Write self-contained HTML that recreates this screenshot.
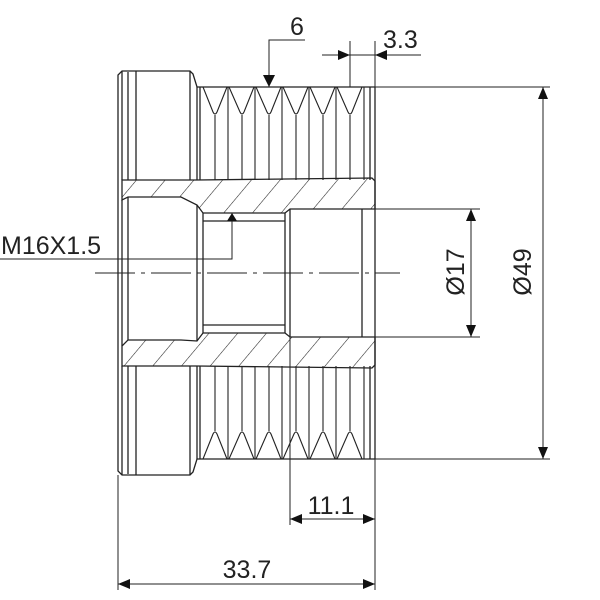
<!DOCTYPE html>
<html><head><meta charset="utf-8"><style>body{margin:0;background:#fff}svg{display:block}</style></head>
<body>
<svg width="600" height="600" viewBox="0 0 600 600" xmlns="http://www.w3.org/2000/svg" font-family="Liberation Sans, sans-serif">
<defs>
<pattern id="h" patternUnits="userSpaceOnUse" width="22" height="22" patternTransform="rotate(40)">
<line x1="0" y1="0" x2="0" y2="22" stroke="#222" stroke-width="1.1"/>
</pattern>
</defs>
<g fill="none" stroke="#222" stroke-width="1.3">
<path d="M122 180 L197 180 L372 178 L375 181 L375 209 L290 209 L285 213 L203 213 L197 205 L181 197 L128 197 L122 200 Z" fill="url(#h)"/>
<path d="M122 366 L197 366 L372 368 L375 365 L375 337 L290 337 L285 333 L203 333 L197 341 L181 340 L128 340 L122 346 Z" fill="url(#h)"/>
<path d="M118 180 L118 75 L122 71 L190 71 L193 74 L197 87 L375 87"/>
<line x1="122" y1="71" x2="122" y2="180"/><line x1="128" y1="72" x2="128" y2="180"/><line x1="136" y1="71" x2="136" y2="180"/>
<line x1="190" y1="71" x2="190" y2="180"/><line x1="197" y1="87" x2="197" y2="180"/><line x1="200" y1="87" x2="200" y2="180"/>
<path d="M118 366 L118 471 L122 475 L190 475 L193 472 L197 459 L375 459"/>
<line x1="122" y1="366" x2="122" y2="475"/><line x1="128" y1="366" x2="128" y2="474"/><line x1="136" y1="366" x2="136" y2="475"/>
<line x1="190" y1="366" x2="190" y2="475"/><line x1="197" y1="366" x2="197" y2="459"/><line x1="200" y1="366" x2="200" y2="459"/>
<line x1="375" y1="87" x2="375" y2="459"/><line x1="370" y1="87" x2="370" y2="180"/><line x1="370" y1="366" x2="370" y2="459"/>
<line x1="362" y1="209" x2="362" y2="337"/>
<line x1="118" y1="180" x2="118" y2="366"/><line x1="122" y1="200" x2="122" y2="346"/>
<line x1="128" y1="197" x2="128" y2="340"/>
<line x1="197" y1="205" x2="197" y2="341"/><line x1="203" y1="213" x2="203" y2="333"/>
<line x1="285" y1="213" x2="285" y2="333"/><line x1="290" y1="209" x2="290" y2="337"/>
<line x1="203" y1="221" x2="285" y2="221"/><line x1="203" y1="325" x2="285" y2="325"/>
</g>
<g fill="none" stroke="#222" stroke-width="1.1">
<path d="M203 87 L213 112 Q215 116 217 112 L227 87 M229 87 L240 112 Q242 116 244 112 L254 87 M256 87 L267 112 Q269 116 271 112 L281 87 M283 87 L294 112 Q296 116 298 112 L308 87 M310 87 L321 112 Q323 116 325 112 L335 87 M337 87 L348 112 Q350 116 352 112 L362 87"/>
<path d="M203 459 L213 434 Q215 430 217 434 L227 459 M229 459 L240 434 Q242 430 244 434 L254 459 M256 459 L267 434 Q269 430 271 434 L281 459 M283 459 L294 434 Q296 430 298 434 L308 459 M310 459 L321 434 Q323 430 325 434 L335 459 M337 459 L348 434 Q350 430 352 434 L362 459"/>
<path d="M215 115 V180 M242 115 V180 M269 115 V180 M296 115 V180 M323 115 V180 M350 115 V180 M228 87 V180 M255 87 V180 M282 87 V180 M309 87 V180 M336 87 V180 M364 87 V180"/>
<path d="M215 431 V366 M242 431 V366 M269 431 V366 M296 431 V366 M323 431 V366 M350 431 V366 M228 459 V366 M255 459 V366 M282 459 V366 M309 459 V366 M336 459 V366 M364 459 V366"/>
</g>
<line x1="95" y1="273" x2="400" y2="273" stroke="#222" stroke-width="1" stroke-dasharray="40,6,4,6"/>
<g stroke="#222" stroke-width="1" fill="none">
<path d="M269 87 V40 H305"/>
<path d="M350 41 V87 M375 41 V87 M322 55 H421"/>
<path d="M375 87 H550 M375 459 H550 M543 87 V459"/>
<path d="M375 209 H480 M375 337 H480 M471 209 V337"/>
<path d="M0 259 H232 V213"/>
<path d="M118 475 V590 M375 459 V590 M290 337 V525 M290 519 H375 M118 584 H375"/>
</g>
<g fill="#111">
<path d="M269 87 L263 75 L275 75 Z"/>
<path d="M350 55 L338 50 L338 60 Z"/><path d="M375 55 L387 50 L387 60 Z"/>
<path d="M543 87 L538 99 L548 99 Z"/><path d="M543 459 L538 447 L548 447 Z"/>
<path d="M471 209 L466 221 L476 221 Z"/><path d="M471 337 L466 325 L476 325 Z"/>
<path d="M232 213 L227 221 L237 221 Z"/>
<path d="M290 519 L302 514 L302 524 Z"/><path d="M375 519 L363 514 L363 524 Z"/>
<path d="M118 584 L130 579 L130 589 Z"/><path d="M375 584 L363 579 L363 589 Z"/>
</g>
<g fill="#222" font-size="25">
<text x="290" y="35">6</text>
<text x="383" y="48">3.3</text>
<text x="1" y="254">M16X1.5</text>
<text x="331" y="514" text-anchor="middle">11.1</text>
<text x="247" y="578" text-anchor="middle">33.7</text>
<text transform="translate(464,272) rotate(-90)" text-anchor="middle">Ø17</text>
<text transform="translate(531,272) rotate(-90)" text-anchor="middle">Ø49</text>
</g>
</svg>
</body></html>
